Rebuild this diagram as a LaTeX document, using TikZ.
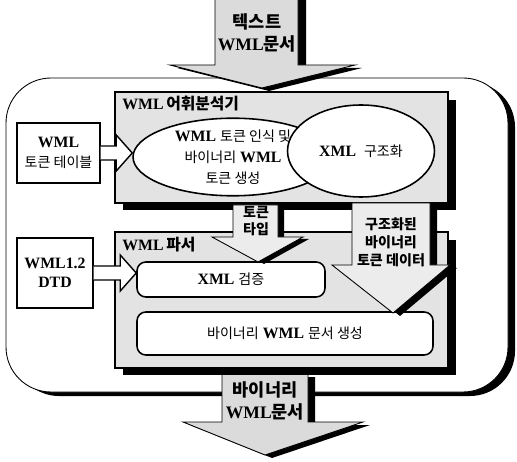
\documentclass[tikz,border=0pt]{standalone}
\usepackage{fontspec}
\setmainfont{Liberation Serif}
\newfontfamily\krfont{Noto Sans CJK KR}
\newcommand{\ko}[1]{{\krfont\mdseries\fontsize{8}{11}\selectfont #1}}
\newcommand{\kob}[1]{{\krfont\bfseries #1}}
\usetikzlibrary{shapes.geometric}
\usetikzlibrary{calc}

\tikzset{
  panel/.style={draw, fill=gray!22, line width=0.6pt},
  oval/.style={draw, ellipse, fill=white, line width=0.9pt, inner sep=0pt, align=center},
  task/.style={draw, rounded corners=5pt, fill=white, line width=0.9pt, inner sep=0pt},
  srcbox/.style={draw, fill=white, line width=0.8pt, inner sep=0pt, align=center},
  blockarrow/.style={draw, fill=gray!28, line width=0.5pt},
  hollow/.style={draw, fill=white, line width=0.8pt, line join=miter},
  txt/.style={align=center, inner sep=0pt}
}
% open arrow from a box (#1) to a tip coordinate (#2)
\newcommand{\hollowarrow}[2]{%
  \draw[hollow] ($(#1.east)+(0,-7)$) -- ($(#2)+(-16,-7)$) -- ($(#2)+(-16,-18)$)
    -- (#2) -- ($(#2)+(-16,18)$) -- ($(#2)+(-16,7)$) -- ($(#1.east)+(0,7)$);}

\begin{document}
\begin{tikzpicture}[x=0.02cm, y=-0.02cm, font=\fontsize{9}{11}\selectfont\bfseries]
\useasboundingbox (0,0) rectangle (517,462);

% outer frame, heavy on the right
\fill[rounded corners=0.9cm] (14,82) rectangle (515,396);
\draw[fill=white, line width=0.5pt, rounded corners=0.9cm] (6,78) rectangle (508,392);

% lexer
\fill (123,100) rectangle (456,210);
\draw[panel] (115,92) rectangle (448,203);
\node[anchor=west, txt] (lextitle) at (122,104) {WML\,\kob{어휘분석기}};
\node[oval, minimum width=4cm, minimum height=1.52cm, font=\fontsize{9}{12}\selectfont\bfseries]
  (tokenize) at (233,157) {WML \ko{토큰 인식 및}\\\ko{바이너리} WML\\\ko{토큰 생성}};
\node[oval, minimum width=2.94cm, minimum height=1.84cm] (structure) at (361,151) {XML\enspace\ko{구조화}};

% parser
\fill (123,240) rectangle (456,375);
\draw[panel] (115,232) rectangle (448,368);
\node[anchor=west, txt] (parsertitle) at (122,245) {WML\,\kob{파서}};
\node[task, minimum width=3.76cm, minimum height=0.7cm] (validate) at (231,279.5) {XML \ko{검증}};
\node[task, minimum width=5.92cm, minimum height=0.86cm] (encode) at (285,333.5) {\ko{바이너리} WML \ko{문서 생성}};

% inputs on the left
\node[srcbox, minimum width=1.66cm, minimum height=1.2cm] (tokentable) at (58.5,153) {WML\\\ko{토큰 테이블}};
\node[srcbox, minimum width=1.52cm, minimum height=1.4cm] (dtd) at (55,273) {WML1.2\\DTD};
\coordinate (tabletip) at (tokenize.west |- tokentable.east);
\coordinate (dtdtip) at (validate.west |- dtd.east);
\hollowarrow{tokentable}{tabletip}
\hollowarrow{dtd}{dtdtip}

% token type: lexer -> validation
\fill (239,207) -- (284,207) -- (284,239) -- (309,239) -- (264,264) -- (218,239) -- (239,239) -- cycle;
\draw[blockarrow, fill=gray!15] (233,205) -- (278,205) -- (278,237) -- (303,237) -- (258,262) -- (212,237) -- (233,237) -- cycle;
\node[txt, font=\fontsize{8}{9.6}\selectfont] (tokentype) at (256,221) {\kob{토큰}\\\kob{타입}};

% structured tokens: lexer -> encoder
\fill (359,206) -- (437,206) -- (437,268) -- (457,268) -- (400,316) -- (339,268) -- (359,268) -- cycle;
\draw[blockarrow, fill=gray!15] (352,203) -- (430,203) -- (430,265) -- (450,265) -- (393,313) -- (332,265) -- (352,265) -- cycle;
\node[txt, font=\fontsize{8}{10.2}\selectfont] (structdata) at (391,242) {\kob{구조화된}\\\kob{바이너리}\\\kob{토큰 데이터}};

% input document
\fill (222,-2) -- (306,-2) -- (306,68) -- (362,68) -- (269,91) -- (177,68) -- (222,68) -- cycle;
\draw[blockarrow] (215,-2) -- (298,-2) -- (298,65) -- (355,65) -- (262,88) -- (170,65) -- (215,65) -- cycle;
\node[txt, font=\fontsize{10}{13}\selectfont\bfseries] (textdoc) at (257,33) {\kob{텍스트}\\WML\kob{문서}};

% output document
\fill (229,377) -- (315,377) -- (315,425) -- (370,425) -- (272,458) -- (190,425) -- (229,425) -- cycle;
\fill[gray!28] (222,375) -- (308,375) -- (308,422) -- (363,422) -- (265,455) -- (183,422) -- (222,422) -- cycle;
\draw[line width=0.5pt] (222,375) -- (222,422) -- (183,422) -- (265,455) -- (363,422) -- (308,422) -- (308,375);
\node[txt, font=\fontsize{10}{13}\selectfont\bfseries] (bindoc) at (265,401) {\kob{바이너리}\\WML\kob{문서}};
\end{tikzpicture}
\end{document}
